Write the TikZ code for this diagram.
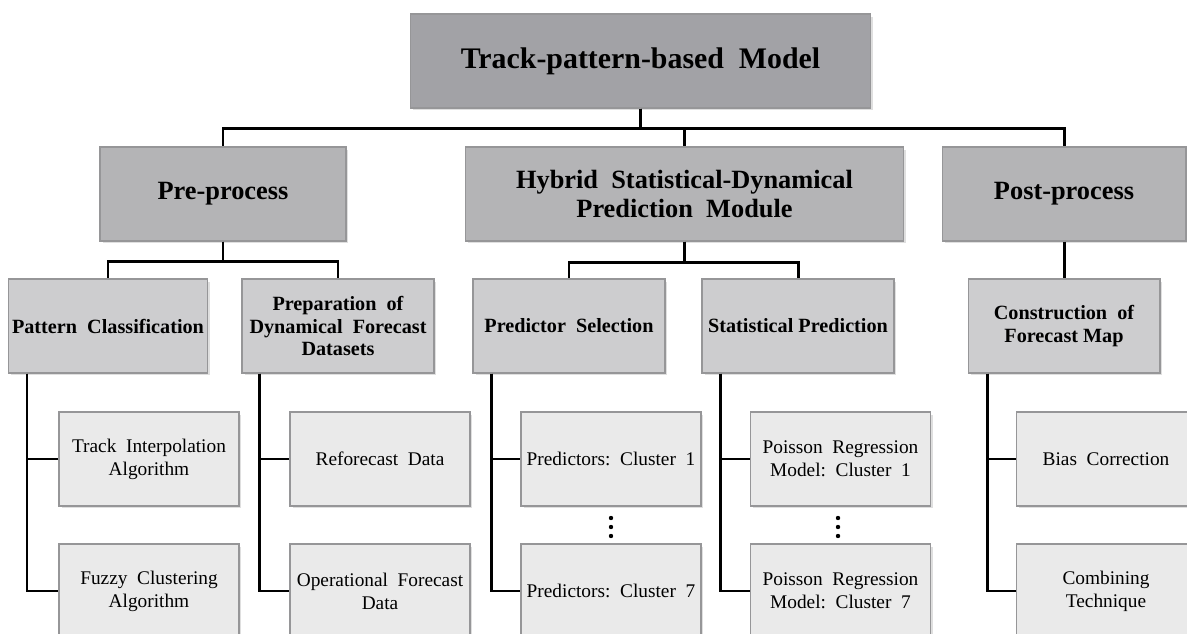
\documentclass[tikz,border=0pt]{standalone}
\usepackage{fontspec}
\setmainfont{Liberation Serif}
\usetikzlibrary{shadows}

\definecolor{fillA}{RGB}{162,162,166}
\definecolor{fillB}{RGB}{180,180,182}
\definecolor{fillC}{RGB}{205,205,207}
\definecolor{fillD}{RGB}{234,234,234}
\definecolor{edge}{RGB}{150,150,152}

\begin{document}
\begin{tikzpicture}[x=0.02cm,y=-0.02cm,
    box/.style={draw=edge,line width=0.6pt,align=center,inner sep=2pt,
      minimum height=1.88cm,
      drop shadow={shadow xshift=0.05cm,shadow yshift=-0.05cm,opacity=0.25}},
    top/.style={box,fill=fillA,minimum width=9.22cm,font=\fontsize{17}{20}\selectfont\bfseries},
    part/.style={box,fill=fillB,font=\fontsize{15}{17}\selectfont\bfseries},
    task/.style={box,fill=fillC,minimum width=3.84cm,font=\fontsize{11.5}{13}\selectfont\bfseries},
    item/.style={box,fill=fillD,minimum width=3.6cm,font=\fontsize{11}{13}\selectfont},
    link/.style={line width=1.7pt}]
        \useasboundingbox (0,0) rectangle (1187,634);

        % top level
        \node[top] (TPM) at (640.5,61) {Track-pattern-based\ \ Model};

        % second level
        \node[part, minimum width=4.92cm] (Pre) at (223,194) {Pre-process};
        \node[part, minimum width=8.78cm] (HSD) at (684.5,194) {Hybrid\ \ Statistical-Dynamical\\Prediction\ \ Module};
        \node[part, minimum width=4.88cm] (Post) at (1064,194) {Post-process};

        % third level
        \node[task] (PC) at (108,326) {Pattern\ \ Classification};
        \node[task] (PDF) at (338,326) {Preparation\ \ of\\Dynamical\ \ Forecast\\Datasets};
        \node[task] (PS) at (569,326) {Predictor\ \ Selection};
        \node[task] (SP) at (798,326) {Statistical\ Prediction};
        \node[task] (CFM) at (1064,326) {Construction\ \ of\\Forecast Map};

        % leaves
        \node[item] (TIA) at (149,459) {Track\ \ Interpolation\\Algorithm};
        \node[item] (FCA) at (149,591) {Fuzzy\ \ Clustering\\Algorithm};
        \node[item] (RD) at (380,459) {Reforecast\ \ Data};
        \node[item] (OFD) at (380,591) {Operational\ \ Forecast\\Data};
        \node[item] (PC1) at (611,459) {Predictors:\ \ Cluster\ \ 1};
        \node[item] (PC7) at (611,591) {Predictors:\ \ Cluster\ \ 7};
        \node[item] (PR1) at (840.5,459) {Poisson\ \ Regression\\Model:\ \ Cluster\ \ 1};
        \node[item] (PR7) at (840.5,591) {Poisson\ \ Regression\\Model:\ \ Cluster\ \ 7};
        \node[item] (BC) at (1106,459) {Bias\ \ Correction};
        \node[item] (CT) at (1106,591) {Combining\\Technique};

        % clusters 2..6 left out
        \foreach \y in {518,527,536} {
          \fill (611,\y) circle (2.2);
          \fill (838,\y) circle (2.2);
        }

        % tree lines
        \draw[link] (TPM.south) -- ++(0,20) -| (Pre.north);
        \draw[link] (TPM.south) -- ++(0,20) -| (HSD.north);
        \draw[link] (TPM.south) -- ++(0,20) -| (Post.north);
        \draw[link] (Pre.south) -- ++(0,20) -| (PC.north);
        \draw[link] (Pre.south) -- ++(0,20) -| (PDF.north);
        \draw[link] (HSD.south) -- ++(0,21) -| (PS.north);
        \draw[link] (HSD.south) -- ++(0,21) -| (SP.north);
        \draw[link] (Post) -- (CFM);

        \draw[link] (PC.south west) ++(19,0) |- (TIA.west);
        \draw[link] (PC.south west) ++(19,0) |- (FCA.west);
        \draw[link] (PDF.south west) ++(18,0) |- (RD.west);
        \draw[link] (PDF.south west) ++(18,0) |- (OFD.west);
        \draw[link] (PS.south west) ++(19,0) |- (PC1.west);
        \draw[link] (PS.south west) ++(19,0) |- (PC7.west);
        \draw[link] (SP.south west) ++(19,0) |- (PR1.west);
        \draw[link] (SP.south west) ++(19,0) |- (PR7.west);
        \draw[link] (CFM.south west) ++(20,0) |- (BC.west);
        \draw[link] (CFM.south west) ++(20,0) |- (CT.west);

      \end{tikzpicture}
\end{document}
